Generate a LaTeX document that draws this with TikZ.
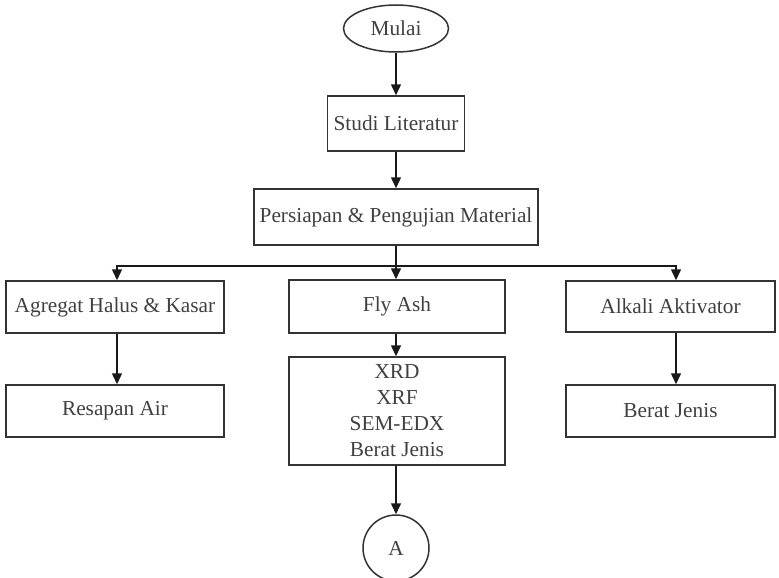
\documentclass[tikz,border=0pt]{standalone}
\usepackage{fontspec}
\setmainfont{Liberation Serif}
\usetikzlibrary{arrows.meta,shapes.geometric}
\begin{document}
\begin{tikzpicture}[x=1pt,y=1pt,
  every node/.style={font=\fontsize{21.3}{26}\selectfont, text=black!75, inner sep=0pt},
  box/.style={draw=black!80, line width=1.5pt, rectangle, align=center},
  arr/.style={draw=black!90, line width=1.5pt, -{Triangle[length=11pt,width=10pt]}},
  ln/.style={draw=black!90, line width=1.5pt}]
\useasboundingbox (0,0) rectangle (779,-578);
\node[draw=black!80, line width=1.5pt, ellipse, minimum width=105, minimum height=47] (mulai) at (396,-28.5) {Mulai};
\node[box, minimum width=137, minimum height=55] (studi) at (396,-123.5) {Studi Literatur};
\node[box, minimum width=284, minimum height=56] (pers) at (396,-217) {Persiapan \& Pengujian Material};
\node[box, minimum width=218, minimum height=52] (agr) at (115,-307) {Agregat Halus \& Kasar};
\node[box, minimum width=216, minimum height=53] (fly) at (397,-306.5) {Fly Ash};
\node[box, minimum width=209, minimum height=51] (alk) at (670.5,-306.5) {Alkali Aktivator};
\node[box, minimum width=218, minimum height=52] (res) at (115,-411) {Resapan Air};
\node[box, minimum width=216, minimum height=108] (xrd) at (397,-411) {XRD\\XRF\\SEM-EDX\\Berat Jenis};
\node[box, minimum width=209, minimum height=52] (bj) at (670.5,-411) {Berat Jenis};
\node[draw=black!80, line width=1.5pt, circle, minimum size=66] (a) at (396,-548) {A};
\coordinate (jn) at (396,-266);
\draw[arr] (mulai.south) -- (studi.north);
\draw[arr] (studi.south) -- (pers.north);
\draw[arr] (pers.south) -- (pers.south |- fly.north);
\draw[arr] (jn) -| ([xshift=2pt]agr.north);
\draw[arr] (jn) -| ([xshift=5.5pt]alk.north);
\draw[arr] ([xshift=2pt]agr.south) -- ([xshift=2pt]res.north);
\draw[arr] ([xshift=-1pt]fly.south) -- ([xshift=-1pt]xrd.north);
\draw[arr] ([xshift=5.5pt]alk.south) -- ([xshift=5.5pt]bj.north);
\draw[arr] (a.north |- xrd.south) -- (a.north);
\end{tikzpicture}
\end{document}
